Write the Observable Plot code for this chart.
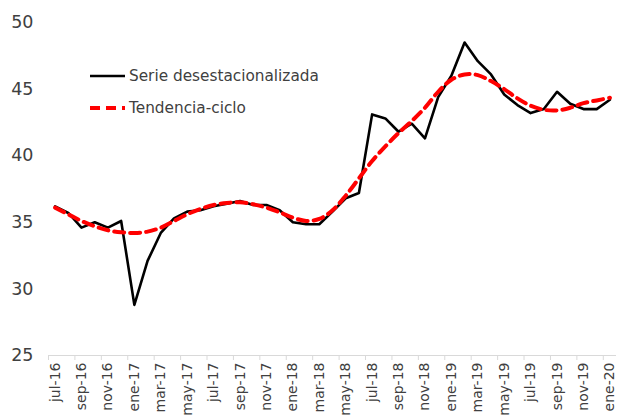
<!DOCTYPE html>
<html><head><meta charset="utf-8">
<script src="https://cdn.jsdelivr.net/npm/d3@7"></script>
<script src="https://cdn.jsdelivr.net/npm/@observablehq/plot@0.6"></script>
<style>
body{margin:0;background:#fff;font-family:"DejaVu Sans",sans-serif;}
#wrap{position:relative;width:618px;height:417px;overflow:hidden;}
#legend{position:absolute;left:0;top:0;pointer-events:none;}
</style></head><body><div id="wrap"></div><script>
const months = ["jul-16","ago-16","sep-16","oct-16","nov-16","dic-16","ene-17","feb-17","mar-17","abr-17","may-17","jun-17",
"jul-17","ago-17","sep-17","oct-17","nov-17","dic-17","ene-18","feb-18","mar-18","abr-18","may-18","jun-18",
"jul-18","ago-18","sep-18","oct-18","nov-18","dic-18","ene-19","feb-19","mar-19","abr-19","may-19","jun-19",
"jul-19","ago-19","sep-19","oct-19","nov-19","dic-19","ene-20"];
const serie = [36.2,35.7,34.6,35.0,34.6,35.1,28.8,32.1,34.2,35.3,35.8,35.9,
36.2,36.4,36.6,36.3,36.3,35.9,35.0,34.85,34.85,35.8,36.8,37.2,
43.1,42.8,41.8,42.4,41.3,44.4,46.0,48.5,47.1,46.1,44.6,43.8,
43.2,43.5,44.8,43.9,43.5,43.5,44.2];
const tendencia = [36.1,35.6,35.1,34.7,34.4,34.25,34.2,34.3,34.6,35.1,35.6,36.0,
36.3,36.45,36.5,36.35,36.1,35.75,35.35,35.1,35.25,35.9,37.0,38.3,
39.6,40.7,41.7,42.6,43.6,44.8,45.7,46.1,46.05,45.6,45.0,44.3,
43.75,43.45,43.4,43.6,43.95,44.15,44.35];
const yTicks = [25,30,35,40,45,50];
const seriesNames = ["Serie desestacionalizada","Tendencia-ciclo"];

const idx = months.map((m,i)=>i);
const labelIdx = idx.filter(i => i % 2 === 0);
const tickBounds = labelIdx.map(i => i - 0.5);

const chart = Plot.plot({
  width: 618, height: 417,
  marginLeft: 48, marginRight: 2, marginTop: 22, marginBottom: 62,
  style: {fontFamily: '"DejaVu Sans", sans-serif', color: "#404040", background: "#fff"},
  x: {domain: [-0.5, 42.5], axis: null},
  y: {domain: [25, 50], axis: null},
  marks: [
    Plot.ruleY([25], {stroke: "#d9d9d9", strokeWidth: 1}),
    Plot.axisX({ticks: tickBounds, tickFormat: () => "", tickSize: 5, stroke: "#d9d9d9"}),
    Plot.axisX({ticks: labelIdx, tickFormat: i => months[i], tickRotate: -90, tickSize: 0, tickPadding: 7, fontSize: 14, fill: "#404040"}),
    Plot.axisY({ticks: yTicks, tickSize: 0, tickPadding: 15, fontSize: 17.5, fill: "#404040"}),
    Plot.line(idx, {x: i => i, y: i => serie[i], stroke: "#000", strokeWidth: 2.6}),
    Plot.line(idx, {x: i => i, y: i => tendencia[i], stroke: "#ff0000", strokeWidth: 4, strokeDasharray: "10,6", curve: "catmull-rom"})
  ]
});
const wrap = document.getElementById("wrap");
wrap.appendChild(chart);

const ns = "http://www.w3.org/2000/svg";
const leg = document.createElementNS(ns, "svg");
leg.setAttribute("id","legend"); leg.setAttribute("width","618"); leg.setAttribute("height","417");
const items = [
  {name: seriesNames[0], stroke: "#000", w: 2.6, dash: null, y: 76},
  {name: seriesNames[1], stroke: "#ff0000", w: 4, dash: "10,6", y: 108}
];
items.forEach(it => {
  const l = document.createElementNS(ns,"line");
  l.setAttribute("x1",90); l.setAttribute("x2",125); l.setAttribute("y1",it.y); l.setAttribute("y2",it.y);
  l.setAttribute("stroke",it.stroke); l.setAttribute("stroke-width",it.w);
  if (it.dash) l.setAttribute("stroke-dasharray", it.dash);
  leg.appendChild(l);
  const t = document.createElementNS(ns,"text");
  t.setAttribute("x",129); t.setAttribute("y",it.y); t.setAttribute("dy","0.35em");
  t.setAttribute("font-size","15.3"); t.setAttribute("fill","#404040");
  t.setAttribute("font-family",'"DejaVu Sans", sans-serif');
  t.textContent = it.name;
  leg.appendChild(t);
});
wrap.appendChild(leg);
</script></body></html>
